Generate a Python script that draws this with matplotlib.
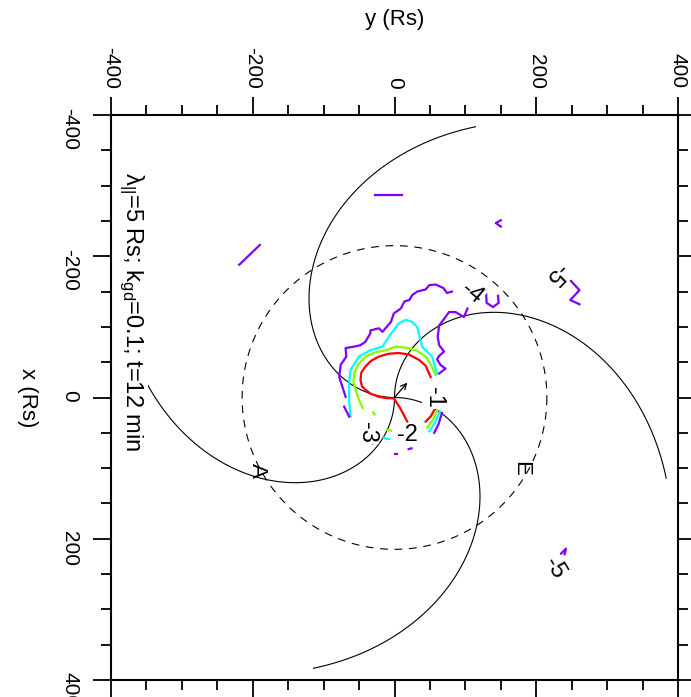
import numpy as np
import matplotlib
matplotlib.use("Agg")
import matplotlib.pyplot as plt

plt.rcParams['font.family'] = ['Liberation Sans', 'DejaVu Sans']
plt.rcParams['mathtext.fontset'] = 'custom'
plt.rcParams['mathtext.rm'] = 'Liberation Sans'
plt.rcParams['mathtext.it'] = 'Liberation Sans:italic'
plt.rcParams['axes.unicode_minus'] = False

# reference geometry (Rs)
au_radius = 215.0
spiral_b = 215.0            # Rs per radian
spiral_rmax = 400.0
spiral_phi0 = [180, 90, 0, -90]   # start direction on screen, degrees

# contour traces, horizontal = y (Rs), vertical = x (Rs)
red_segs = [
    ([51, 44, 35, 20, 6, -8, -22, -33, -41, -47, -48, -46, -41, -33, -22, -11, -1, 8, 18],
     [-29, -45, -53, -61, -63, -62, -58, -52, -44, -35, -25, -16, -11, -5, -1, 1, 1, 15, 34]),
    ([56, 51, 44], [18, 27, 34]),
]
green_segs = [
    ([58, 51, 44, 32, 20, 2, -12, -27, -41, -51, -57, -58, -55, -51, -48, -45],
     [-32, -47, -58, -66, -70, -72, -67, -64, -58, -47, -34, -22, -11, 1, 8, 15]),
    ([-30, -28], [21, 24]),
    ([-11, -5], [46, 47]),
    ([60, 54, 46], [18, 32, 43]),
]
cyan_segs = [
    ([60, 53, 39, 32, 25, 16, 6, -8, -17, -34, -50, -62, -64, -64, -62],
     [-34, -58, -72, -100, -107, -110, -105, -86, -72, -67, -58, -39, -20, 4, 27]),
    ([-15, -8], [57, 59]),
    ([64, 57, 49], [20, 36, 48]),
]
purple_segs = [
    ([-69, -78, -76, -68, -69, -57, -48, -41, -34, -34, -22, -17, -5, -1, 9, 14, 21, 25, 32, 44, 49, 58, 69, 74, 81],
     [-1, -29, -46, -58, -70, -72, -74, -79, -91, -95, -98, -93, -107, -119, -126, -136, -138, -145, -150, -153, -159, -160, -155, -148, -150]),
    ([103, 98, 86, 77, 72, 63, 61, 63, 70, 63, 60, 65, 72, 63],
     [-126, -114, -121, -121, -114, -102, -86, -74, -65, -59, -54, -46, -41, -34]),
    ([-71, -64], [13, 27]),
    ([-31, -24], [65, 56]),
    ([0, 4], [80, 80]),
    ([20, 24], [73, 72]),
    ([67, 62, 56], [22, 38, 50]),
    ([-27, 11], [-287, -287]),
    ([-219, -190], [-188, -216]),
    ([150, 143, 150], [-251, -247, -242]),
    ([249, 261, 248, 261], [-165, -152, -138, -132]),
    ([129, 130, 139, 147, 146], [-151, -134, -128, -134, -144]),
    ([232, 242, 240], [224, 214, 222]),
]
level_colors = ['#ff0000', '#7fff00', '#00ffff', '#7f00ff']

clabel_text = ['-1', '-2', '-3', '-4', '-5', '-5']
clabel_y = [56, 18, -39, 109, 228, 225]
clabel_x = [0, 53, 50, -148, -176, 241]
clabel_rot = [-90, 0, -90, -40, -135, -60]

site_text = ['A', 'E']
site_y = [-194, 178]
site_x = [103, 100]

fig = plt.figure(figsize=(6.91, 6.97), dpi=100)
ax = fig.add_axes([111 / 691, 1 - 680 / 697, 567 / 691, 565 / 697])

# 1 AU circle
t = np.linspace(0, 2 * np.pi, 400)
ax.plot(au_radius * np.cos(t), au_radius * np.sin(t), color='black', lw=0.8,
        dashes=(7, 6))

# Parker spirals
r = np.linspace(0, spiral_rmax, 300)
for p0 in spiral_phi0:
    th = np.deg2rad(p0) - r / spiral_b
    ax.plot(r * np.cos(th), -r * np.sin(th), color='black', lw=0.8)

for segs, col in zip([red_segs, green_segs, cyan_segs, purple_segs], level_colors):
    for ys, xs in segs:
        ax.plot(ys, xs, color=col, lw=1.6)

ax.annotate('', xy=(18, -21), xytext=(0, 0),
            arrowprops=dict(arrowstyle='->', lw=0.9, color='black', shrinkA=0, shrinkB=0))

box = dict(boxstyle='square,pad=0.05', fc='white', ec='none')
for s, yy, xx, rot in zip(clabel_text, clabel_y, clabel_x, clabel_rot):
    ax.text(yy, xx, s, fontsize=17, rotation=rot, ha='center', va='center', bbox=box, zorder=5)
for s, yy, xx in zip(site_text, site_y, site_x):
    ax.text(yy, xx, s, fontsize=16, rotation=-90, ha='center', va='center', zorder=5)

ax.text(-371, -319, r'$\mathregular{\lambda_{||}}$=5 Rs; k$\mathregular{_{gd}}$=0.1; t=12 min',
        fontsize=17, rotation=-90, ha='center', va='top',
        bbox=dict(boxstyle='square,pad=0.1', fc='white', ec='none'), zorder=5)

ax.set_xlim(-400, 400)
ax.set_ylim(400, -400)
ax.set_xticks([-400, -200, 0, 200, 400])
ax.set_yticks([-400, -200, 0, 200, 400])
ax.set_xticks(np.arange(-400, 401, 50), minor=True)
ax.set_yticks(np.arange(-400, 401, 50), minor=True)
ax.tick_params(axis='both', which='both', direction='out', width=1.3,
               top=True, bottom=True, left=True, right=True,
               labeltop=True, labelbottom=False, labelleft=True, labelright=False,
               labelsize=15)
ax.tick_params(which='major', length=13, pad=6)
ax.tick_params(which='minor', length=7)
ax.tick_params(axis='x', labelrotation=-90)
ax.tick_params(axis='y', labelrotation=-90, pad=10)
for sp in ax.spines.values():
    sp.set_linewidth(1.5)

ax.set_xlabel('y (Rs)', fontsize=16)
ax.xaxis.set_label_position('top')
ax.xaxis.set_label_coords(0.5, 1 + 90 / 565)
ax.set_ylabel('x (Rs)', fontsize=16, rotation=-90, ha='center', va='center')
ax.yaxis.set_label_coords(-83 / 567, 0.5)

fig.savefig('out.png', dpi=100)
